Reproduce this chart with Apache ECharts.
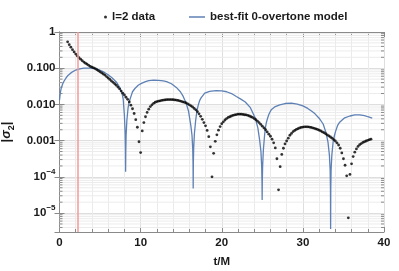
<!DOCTYPE html>
<html>
<head>
<meta charset="utf-8">
<script src="https://cdn.jsdelivr.net/npm/echarts@6/dist/echarts.min.js"></script>
<style>html,body{margin:0;padding:0;background:#fff}#c{width:399px;height:271px}</style>
</head>
<body>
<div id="c"></div>
<script>
// ---- data ----
const dataName = 'l=2 data';
const modelName = 'best-fit 0-overtone model';
const dataPoints = [
[1.0,0.537],[1.2,0.447],[1.4,0.380],[1.6,0.324],[1.8,0.282],[2.0,0.245],[2.2,0.219],[2.4,0.195],[2.6,0.178],[2.8,0.162],
[3.0,0.148],[3.2,0.138],[3.4,0.129],[3.6,0.120],[3.8,0.112],[4.0,0.107],[4.2,0.102],[4.4,0.0977],[4.6,0.0912],[4.8,0.0851],
[5.0,0.0794],[5.2,0.0741],[5.4,0.0692],[5.6,0.0646],[5.8,0.0589],[6.0,0.0537],[6.2,0.0490],[6.4,0.0447],[6.6,0.0407],[6.8,0.0372],
[7.0,0.0339],[7.2,0.0302],[7.4,0.0269],[7.6,0.0234],[7.8,0.0204],[8.0,0.0182],[8.2,0.0158],[8.4,0.0138],[8.6,0.0117],[8.8,0.00955],
[9.0,0.00759],[9.2,0.00562],[9.4,0.00380],[9.6,0.00234],[9.8,0.000933],[10.0,0.000468],[10.2,0.00186],[10.4,0.00316],[10.6,0.00457],[10.8,0.00603],
[11.0,0.00741],[11.2,0.00871],[11.4,0.00977],[11.6,0.0107],[11.8,0.0115],[12.0,0.0120],[12.2,0.0123],[12.4,0.0126],[12.6,0.0129],[12.8,0.0132],
[13.0,0.0133],[13.2,0.0135],[13.4,0.0136],[13.6,0.0136],[13.8,0.0136],[14.0,0.0135],[14.2,0.0133],[14.4,0.0132],[14.6,0.0129],[14.8,0.0126],
[15.0,0.0122],[15.2,0.0117],[15.4,0.0114],[15.6,0.0110],[15.8,0.0104],[16.0,0.00977],[16.2,0.00912],[16.4,0.00851],[16.6,0.00776],[16.8,0.00708],
[17.0,0.00631],[17.2,0.00550],[17.4,0.00468],[17.6,0.00389],[17.8,0.00316],[18.0,0.00257],[18.2,0.00191],[18.4,0.00129],[18.6,0.000676],[18.8,0.0001],
[19.0,0.000447],[19.2,0.000955],[19.4,0.00145],[19.6,0.00195],[19.8,0.00245],[20.0,0.00295],[20.2,0.00331],[20.4,0.00372],[20.6,0.00407],[20.8,0.00437],
[21.0,0.00457],[21.2,0.00479],[21.4,0.00501],[21.6,0.00513],[21.8,0.00525],[22.0,0.00537],[22.2,0.00537],[22.4,0.00537],[22.6,0.00531],[22.8,0.00519],
[23.0,0.00513],[23.2,0.00501],[23.4,0.00479],[23.6,0.00457],[23.8,0.00437],[24.0,0.00407],[24.2,0.00380],[24.4,0.00347],[24.6,0.00316],[24.8,0.00282],
[25.0,0.00251],[25.2,0.00224],[25.4,0.00200],[25.6,0.00174],[25.8,0.00151],[26.0,0.00132],[26.2,0.00110],[26.4,0.000871],[26.6,0.000631],[26.8,0.000316],
[27.0,0.0000437],[27.2,0.000191],[27.4,0.000417],[27.6,0.000617],[27.8,0.000813],[28.0,0.000977],[28.2,0.00117],[28.4,0.00141],[28.6,0.00158],[28.8,0.00178],
[29.0,0.00191],[29.2,0.00204],[29.4,0.00214],[29.6,0.00224],[29.8,0.00232],[30.0,0.00237],[30.2,0.00240],[30.4,0.00240],[30.6,0.00240],[30.8,0.00237],
[31.0,0.00232],[31.2,0.00226],[31.4,0.00219],[31.6,0.00211],[31.8,0.00204],[32.0,0.00195],[32.2,0.00186],[32.4,0.00174],[32.6,0.00166],[32.8,0.00155],
[33.0,0.00145],[33.2,0.00135],[33.4,0.00126],[33.6,0.00117],[33.8,0.00107],[34.0,0.000977],[34.2,0.000871],[34.4,0.000759],[34.6,0.000617],[34.8,0.000457],
[35.0,0.000316],[35.2,0.000209],[35.4,0.000107],[35.6,0.0000074],[35.8,0.000117],[36.0,0.000229],[36.2,0.000363],[36.4,0.000479],[36.6,0.000589],[36.8,0.000692],
[37.0,0.000776],[37.2,0.000832],[37.4,0.000891],[37.6,0.000933],[37.8,0.000977],[38.0,0.00102],[38.2,0.00106],[38.4,0.00110]
];
const modelPoints = [
[0,0.0132],[0.1,0.0209],[0.2,0.0275],[0.4,0.0372],[0.6,0.0457],[0.8,0.0537],[1.0,0.0617],[1.3,0.0708],[1.6,0.0794],[2.0,0.0891],
[2.5,0.0955],[3.0,0.100],[3.5,0.101],[4.0,0.100],[4.5,0.0955],[5.0,0.0871],[5.5,0.0776],[6.0,0.0661],[6.5,0.0537],[7.0,0.0417],
[7.4,0.0302],[7.7,0.0209],[7.85,0.0141],[8.0,0.00501],[8.09,0.00158],[8.13,0.000501],[8.15,0.000138],[8.17,0.000501],[8.21,0.00141],[8.3,0.00355],
[8.45,0.00794],[8.55,0.0107],[8.7,0.0141],[8.85,0.0178],[9.0,0.0224],[9.3,0.0275],[9.7,0.0339],[10.1,0.0380],[10.6,0.0427],[11.0,0.0452],[11.6,0.0468],[12.2,0.0462],
[12.8,0.0447],[13.2,0.0427],[13.8,0.0372],[14.4,0.0295],[14.9,0.0224],[15.25,0.0166],[15.6,0.0110],[15.9,0.00661],[16.2,0.00251],[16.33,0.00141],
[16.42,0.000631],[16.46,0.000251],[16.48,0.0000479],[16.5,0.000251],[16.54,0.000631],[16.63,0.00158],[16.78,0.00355],[16.88,0.00525],[16.97,0.00708],[17.1,0.00955],[17.3,0.0132],[17.45,0.0151],[17.6,0.0170],
[17.9,0.0204],[18.5,0.0229],[19.3,0.0240],[20.0,0.0237],[20.6,0.0224],[21.2,0.0200],[21.8,0.0166],[22.4,0.0138],[22.9,0.0117],[23.5,0.00832],
[24.1,0.00437],[24.45,0.00224],[24.68,0.00100],[24.83,0.000501],[24.92,0.000200],[24.96,0.0000794],[24.98,0.0000229],[25.0,0.0000794],[25.04,0.000200],[25.13,0.000562],
[25.28,0.00141],[25.4,0.00240],[25.5,0.00316],[25.65,0.00417],[25.8,0.00525],[25.95,0.00617],[26.1,0.00708],[26.6,0.00871],[27.15,0.00977],[27.8,0.0106],[28.6,0.0108],[29.3,0.0102],[30.0,0.00912],
[30.6,0.00776],[31.1,0.00646],[31.5,0.00550],[32.0,0.00417],[32.5,0.00288],[32.85,0.00166],[33.1,0.000891],[33.27,0.000398],[33.36,0.000158],[33.4,0.0000501],
[33.42,0.00000363],[33.44,0.0000501],[33.48,0.000158],[33.57,0.000398],[33.72,0.000891],[33.8,0.00112],[33.9,0.00141],[34.05,0.00186],[34.3,0.00269],[34.5,0.00316],[34.7,0.00355],[35.15,0.00427],[35.8,0.00479],
[36.4,0.00513],[37.0,0.00513],[37.6,0.00490],[38.0,0.00457],[38.55,0.00417]
];
const redLineT = 2.24;
const xMin = 0, xMax = 40, xInterval = 10;
const yMin = 3e-6, yMax = 1;
const yTickValues = [1, 0.1, 0.01, 0.001, 1e-4, 1e-5];
const yTickLabels = ['{b|1}', '{b|0.100}', '{b|0.010}', '{b|0.001}', '{b|10}{sup|\u22124}', '{b|10}{sup|\u22125}'];

// ---- styling ----
const FONT = '"Liberation Sans", Arial, sans-serif';
const frameColor = '#8a8a8a';
const txtColor = '#1a1a1a';
const blue = '#5e81b5';

// minor log grid values (decoration)
const minorVals = [];
for (let e = -6; e <= -1; e++) {
  for (let k = 2; k <= 9; k++) {
    const v = k * Math.pow(10, e);
    if (v > yMin * 1.01 && v < yMax) minorVals.push([xMin, v]);
  }
}

const chart = echarts.init(document.getElementById('c'), null, {renderer: 'canvas'});
const labelStyle = {fontFamily: FONT, fontSize: 11.5, fontWeight: 'bold', color: txtColor};

chart.setOption({
  animation: false,
  backgroundColor: '#fff',
  grid: {left: 59.5, right: 15, top: 32, bottom: 39, containLabel: false, outerBoundsMode: 'none'},
  legend: [
    {data: [{name: dataName, icon: 'circle'}], left: 99, top: 6, itemWidth: 3, itemHeight: 3, textStyle: labelStyle, selectedMode: false},
    {data: [{name: modelName, icon: 'rect'}], left: 184, top: 6, itemWidth: 16, itemHeight: 1.5, textStyle: labelStyle, selectedMode: false}
  ],
  xAxis: [{
    type: 'value', min: xMin, max: xMax, interval: xInterval,
    name: 't/M', nameLocation: 'middle', nameGap: 24,
    nameTextStyle: labelStyle,
    axisLine: {lineStyle: {color: frameColor, width: 1}},
    axisTick: {inside: true, length: 5, lineStyle: {color: frameColor}},
    minorTick: {show: true, splitNumber: 5, length: 3, lineStyle: {color: frameColor}},
    axisLabel: Object.assign({margin: 5}, labelStyle),
    splitLine: {show: true, lineStyle: {color: '#dedede', width: 1}},
    minorSplitLine: {show: true, lineStyle: {color: '#ebebeb', width: 1}}
  }, {
    type: 'value', position: 'top', min: xMin, max: xMax, interval: xInterval,
    axisLine: {lineStyle: {color: frameColor, width: 1}},
    axisTick: {inside: true, length: 5, lineStyle: {color: frameColor}},
    minorTick: {show: true, splitNumber: 5, length: 3, lineStyle: {color: frameColor}},
    axisLabel: {show: false}, splitLine: {show: false}
  }],
  yAxis: [{
    type: 'log', logBase: 10, min: yMin, max: yMax, splitNumber: 6,
    name: '|{s|\u03c3}{sub|2}|', nameLocation: 'middle', nameGap: 38, nameRotate: 90,
    nameTextStyle: {fontFamily: FONT, fontSize: 13, fontWeight: 'bold', color: txtColor, lineHeight: 18,
      rich: {s: {fontFamily: FONT, fontSize: 13, fontStyle: 'italic', fontWeight: 'bold', color: txtColor, lineHeight: 18},
             sub: {fontFamily: FONT, fontSize: 9, fontWeight: 'bold', color: txtColor, verticalAlign: 'bottom', lineHeight: 11}}},
    axisLine: {show: true, lineStyle: {color: frameColor, width: 1}},
    axisTick: {show: true, inside: true, length: 5, lineStyle: {color: frameColor}},
    axisLabel: {
      margin: 4,
      formatter: function (v) {
        for (let i = 0; i < yTickValues.length; i++) {
          if (Math.abs(Math.log10(v) - Math.log10(yTickValues[i])) < 1e-6) return yTickLabels[i];
        }
        return '';
      },
      rich: {
        b: {fontFamily: FONT, fontSize: 11.5, fontWeight: 'bold', color: txtColor, lineHeight: 18},
        sup: {fontFamily: FONT, fontSize: 8, fontWeight: 'bold', color: txtColor, verticalAlign: 'top', lineHeight: 10}
      }
    },
    splitLine: {show: true, lineStyle: {color: '#dedede', width: 1}}
  }, {
    type: 'log', logBase: 10, min: yMin, max: yMax, splitNumber: 6, position: 'right',
    axisLine: {show: true, lineStyle: {color: frameColor, width: 1}},
    axisTick: {show: true, inside: true, length: 5, lineStyle: {color: frameColor}},
    axisLabel: {show: false}, splitLine: {show: false}
  }],
  series: [
    {
      type: 'custom', name: 'minorgrid', silent: true, z: 1, clip: true,
      xAxisIndex: 0, yAxisIndex: 0,
      data: minorVals,
      renderItem: function (params, api) {
        const v = api.value(1);
        const a = api.coord([xMin, v]);
        const b = api.coord([xMax, v]);
        return {type: 'group', children: [
          {type: 'line', shape: {x1: a[0], y1: a[1], x2: b[0], y2: b[1]}, style: {stroke: '#ececec', lineWidth: 1}},
          {type: 'line', shape: {x1: a[0], y1: a[1], x2: a[0] + 3, y2: a[1]}, style: {stroke: frameColor, lineWidth: 1}},
          {type: 'line', shape: {x1: b[0] - 3, y1: b[1], x2: b[0], y2: b[1]}, style: {stroke: frameColor, lineWidth: 1}}
        ]};
      }
    },
    {
      type: 'line', name: 'redline', data: [], z: 2, silent: true,
      markLine: {silent: true, symbol: 'none', label: {show: false},
        lineStyle: {color: '#f29a9a', width: 1.5, type: 'solid'},
        data: [{xAxis: redLineT}]}
    },
    {
      type: 'line', name: modelName, data: modelPoints, z: 3,
      symbol: 'none', showSymbol: false, smooth: false,
      lineStyle: {color: blue, width: 1.3}, itemStyle: {color: blue}
    },
    {
      type: 'scatter', name: dataName, data: dataPoints, z: 4,
      symbol: 'circle', symbolSize: 2.8, itemStyle: {color: '#000'}
    }
  ]
});
</script>
</body>
</html>
